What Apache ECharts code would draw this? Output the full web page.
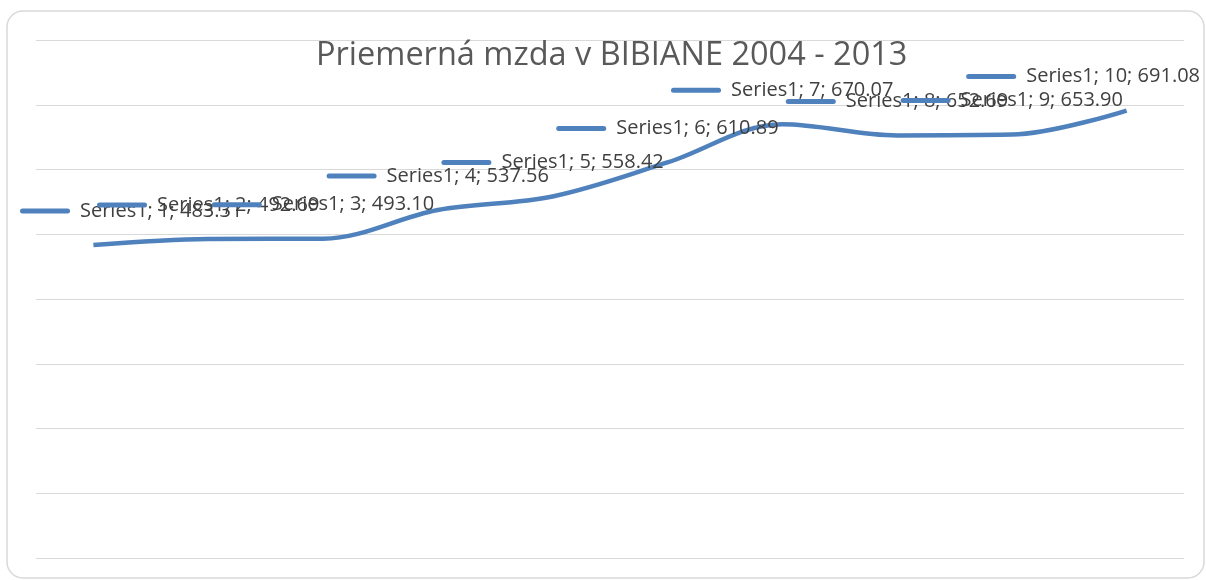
<!DOCTYPE html>
<html>
<head>
<meta charset="utf-8">
<script src="https://cdn.jsdelivr.net/npm/echarts@6/dist/echarts.min.js"></script>
<style>
  html, body { margin: 0; padding: 0; background: #fff; }
  #chart { width: 1206px; height: 580px; }
</style>
</head>
<body>
<div id="chart"></div>
<script>
const categories = ["1", "2", "3", "4", "5", "6", "7", "8", "9", "10"];
const mzda = [483.31, 492.69, 493.10, 537.56, 558.42, 610.89, 670.07, 652.69, 653.90, 691.08];
const seriesName = "Series1";

const chart = echarts.init(document.getElementById("chart"));

const option = {
  animation: false,
  title: {
    text: "Priemerná mzda v BIBIANE 2004 - 2013",
    left: 311,
    top: 34,
    textStyle: {
      fontFamily: "Open Sans",
      fontSize: 32.5,
      fontWeight: "normal",
      color: "#595959"
    }
  },
  graphic: [
    {
      type: "rect",
      shape: { x: 7, y: 11, width: 1197, height: 567, r: 16 },
      style: { fill: "none", stroke: "#d9d9d9", lineWidth: 1.5 },
      silent: true
    }
  ],
  grid: { left: 36, right: 22, top: 40, bottom: 22 },
  xAxis: {
    type: "category",
    data: categories,
    boundaryGap: true,
    axisLine: { show: false },
    axisTick: { show: false },
    axisLabel: { show: false }
  },
  yAxis: {
    type: "value",
    min: 0,
    max: 800,
    interval: 100,
    axisLabel: { show: false },
    axisLine: { show: false },
    axisTick: { show: false },
    splitLine: { lineStyle: { color: "#d9d9d9", width: 1 } }
  },
  series: [
    {
      name: seriesName,
      type: "line",
      data: mzda,
      smooth: 0.35,
      symbol: "circle",
      symbolSize: 0,
      showSymbol: true,
      lineStyle: { color: "#4f81bd", width: 4.5 },
      itemStyle: { color: "#4f81bd" },
      label: {
        show: true,
        position: "top",
        distance: 22,
        formatter: (p) => "{k|}{t|" + seriesName + "; " + (p.dataIndex + 1) + "; " + p.value.toFixed(2) + "}",
        rich: {
          k: { width: 50, height: 5, backgroundColor: "#4f81bd", borderRadius: 3 },
          t: {
            fontFamily: "Open Sans",
            fontSize: 20,
            color: "#404040",
            lineHeight: 24,
            padding: [0, 0, 0, 10]
          }
        }
      },
      labelLayout: (params) => {
        const r = params.labelRect;
        if (r.x < 20) return { dx: 20 - r.x };
        if (r.x + r.width > 1200) return { dx: 1200 - r.x - r.width };
        return {};
      }
    }
  ]
};

chart.setOption(option);
</script>
</body>
</html>
